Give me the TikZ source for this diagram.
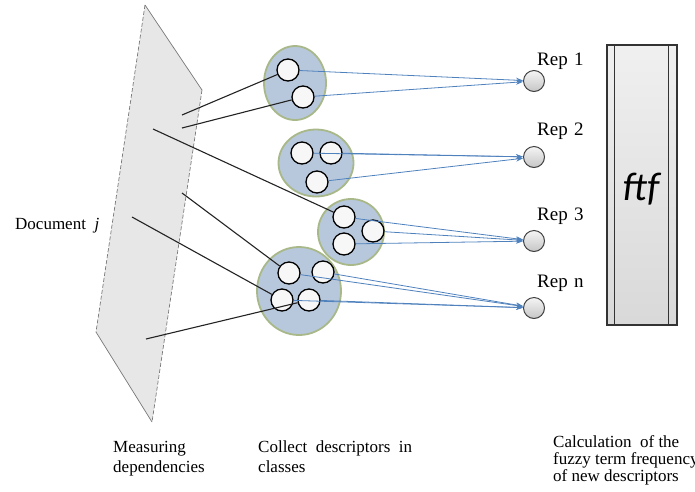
\documentclass[tikz,border=0pt]{standalone}
\usepackage{fontspec}
\setmainfont{Liberation Serif}
\newfontfamily\calibrifont{Carlito}
\usetikzlibrary{arrows.meta,shapes.geometric}
\definecolor{planefill}{RGB}{231,231,231}
\definecolor{planeedge}{RGB}{120,120,120}
\definecolor{clusterfill}{RGB}{184,200,220}
\definecolor{clusteredge}{RGB}{168,184,136}
\definecolor{linkblue}{RGB}{79,129,189}
\definecolor{linkdark}{RGB}{35,35,35}
\tikzset{
  cluster/.style={ellipse, draw=clusteredge, line width=1.8pt, fill=clusterfill, inner sep=0pt},
  term/.style={circle, draw=black, line width=1.3pt, fill=white!94!gray, minimum size=22pt, inner sep=0pt},
  rep/.style={circle, draw=black!75, line width=1pt, top color=gray!8, bottom color=gray!45, minimum size=21pt, inner sep=0pt},
  replabel/.style={font=\fontsize{19}{21}\selectfont, anchor=base west, inner sep=0pt},
  caption/.style={font=\fontsize{17}{19}\selectfont, anchor=base west, inner sep=0pt},
  dep/.style={draw=linkdark, line width=1.1pt},
  assign/.style={draw=linkblue, line width=0.8pt, -{Stealth[length=7pt,width=5pt]}},
  planeside/.style={draw=planeedge, line width=0.7pt},
}
\begin{document}
\begin{tikzpicture}[x=1pt,y=-1pt]
\useasboundingbox (0,0) rectangle (695,491);

% document plane
\fill[planefill] (145,5) -- (202,90) -- (152,422) -- (96,332) -- cycle;
\draw[planeside] (145,5) -- (202,90);
\draw[planeside] (96,332) -- (152,422);
\draw[planeside, dash pattern=on 4pt off 2pt] (202,90) -- (152,422);
\draw[planeside, dash pattern=on 4pt off 2pt] (145,5) -- (96,332);

\node[font=\fontsize{17}{19}\selectfont, anchor=base west, inner sep=0pt] (doc) at (15,229) {Document\ \ \textit{j}};

% dependency anchors on the plane
\coordinate (p1) at (182,115);
\coordinate (p2) at (182,128);
\coordinate (p3) at (153,129);
\coordinate (p4) at (182,193);
\coordinate (p5) at (132,217);
\coordinate (p6) at (146,339);

% descriptor classes
\node[cluster, minimum width=62pt, minimum height=74pt] (A) at (295,83) {};
\node[cluster, minimum width=75pt, minimum height=67pt] (B) at (316,163) {};
\node[cluster, minimum width=66pt, minimum height=66pt] (C) at (351,232) {};
\node[cluster, minimum width=84pt, minimum height=88pt] (D) at (299,291) {};

\node[term] (A1) at (288,70) {};
\node[term] (A2) at (303,97) {};
\node[term] (B1) at (302,153) {};
\node[term] (B2) at (331,153) {};
\node[term] (B3) at (317,182) {};
\node[term] (C1) at (344,217) {};
\node[term] (C2) at (373,231) {};
\node[term] (C3) at (344,244) {};
\node[term] (D1) at (289,273) {};
\node[term] (D2) at (323,272) {};
\node[term] (D3) at (282,300) {};
\node[term] (D4) at (309,300) {};

% dependencies measured in the document
\draw[dep] (p1) -- (A1);
\draw[dep] (p2) -- (A2);
\draw[dep] (p3) -- (C1);
\draw[dep] (p4) -- (D1);
\draw[dep] (p5) -- (D3);
\draw[dep] (p6) -- (D4);

% representatives
\node[rep] (R1) at (534,81) {};
\node[rep] (R2) at (534,157) {};
\node[rep] (R3) at (534,241) {};
\node[rep] (Rn) at (534,308) {};
\node[replabel] (L1) at (537,65) {Rep\hspace{1.5pt} 1};
\node[replabel] (L2) at (537,135) {Rep\hspace{1.5pt} 2};
\node[replabel] (L3) at (537,220) {Rep\hspace{1.5pt} 3};
\node[replabel] (Ln) at (537,287) {Rep\hspace{1.5pt} n};

\draw[assign] (A1) -- (R1);
\draw[assign] (A2) -- (R1);
\draw[assign] (B1) -- (R2);
\draw[assign] (B2) -- (R2);
\draw[assign] (B3) -- (R2);
\draw[assign] (C1) -- (R3);
\draw[assign] (C2) -- (R3);
\draw[assign] (C3) -- (R3);
\draw[assign] (D1) -- (Rn);
\draw[assign] (D2) -- (Rn);
\draw[assign] (D3) -- (Rn);
\draw[assign] (D4) -- (Rn);

% fuzzy term frequency bar
\node[draw=black!80, line width=1.1pt, top color=gray!12, bottom color=gray!30,
      minimum width=70pt, minimum height=280pt, inner sep=0pt] (ftf) at (642,185) {};
\draw[black!80, line width=0.9pt] ([xshift=8pt]ftf.north west) -- ([xshift=8pt]ftf.south west);
\draw[black!80, line width=0.9pt] ([xshift=-9pt]ftf.north east) -- ([xshift=-9pt]ftf.south east);
\node[font=\calibrifont\itshape\fontsize{40}{42}\selectfont, inner sep=0pt] (ftflabel) at (641,189) {ftf};

% captions
\node[caption] (cap1a) at (113,452) {Measuring};
\node[caption] (cap1b) at (113,472) {dependencies};
\node[caption] (cap2a) at (258,452) {Collect\ \ descriptors\ \ in};
\node[caption] (cap2b) at (258,472) {classes};
\node[caption] (cap3a) at (553,447) {Calculation\ \ of the};
\node[caption] (cap3b) at (553,464) {fuzzy term frequency};
\node[caption] (cap3c) at (553,481) {of new descriptors};
\end{tikzpicture}
\end{document}
